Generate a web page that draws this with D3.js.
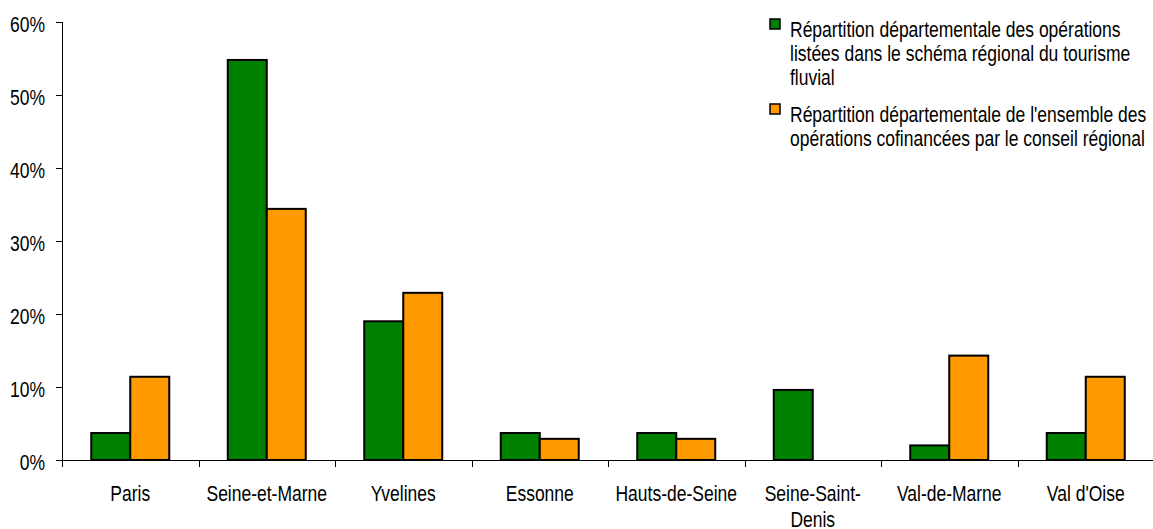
<!DOCTYPE html>
<html>
<head>
<meta charset="utf-8">
<script src="https://cdn.jsdelivr.net/npm/d3@7"></script>
<style>
  body { margin: 0; background: #fff; }
  svg { display: block; font-family: "Liberation Sans", Arial, sans-serif; }
  .axis path, .axis line { stroke: #000; shape-rendering: crispEdges; }
  .axis text { fill: #000; font-size: 17.5px; }
</style>
</head>
<body>
<svg id="chart" width="1153" height="529"></svg>
<script>
//#region DATA /////////////////////////////////////////////////////////////////

// departments, the second one spans two lines in the original
const categories = [
  ["Paris"], ["Seine-et-Marne"], ["Yvelines"], ["Essonne"],
  ["Hauts-de-Seine"], ["Seine-Saint-", "Denis"], ["Val-de-Marne"],
  ["Val d'Oise"]
];

// share of the operations listed in the regional river tourism scheme
const schemaValues = [0.037, 0.548, 0.190, 0.037, 0.037, 0.096, 0.020, 0.037];
// share of all operations co-financed by the regional council
const cofinValues  = [0.114, 0.344, 0.229, 0.029, 0.029, 0.000, 0.143, 0.114];

const seriesNames = [
  ["Répartition départementale des opérations",
   "listées dans le schéma régional du tourisme", "fluvial"],
  ["Répartition départementale de l'ensemble des",
   "opérations cofinancées par le conseil régional"]
];

const yTicks = [0, 0.1, 0.2, 0.3, 0.4, 0.5, 0.6];

//#endregion

//#region LAYOUT ///////////////////////////////////////////////////////////////

const LEFT = 62, RIGHT = 1154, TOP = 22, BOTTOM = 460;
const STRETCH = 1.25;   // the source text is taller than it is wide
const COLORS = ["#008000", "#ff9900"];

const svg = d3.select("#chart");

const x0 = d3.scaleBand()
    .domain(categories.map((d, i) => i))
    .range([LEFT, RIGHT]);

// excel style: gap between groups is 150% of a bar width
const bw = x0.bandwidth() / 3.5;
const x1 = d3.scaleBand()
    .domain([0, 1])
    .range([bw * 0.75, bw * 2.75]);

const y = d3.scaleLinear().domain([0, 0.6]).range([BOTTOM, TOP]);

//#endregion

//#region AXES /////////////////////////////////////////////////////////////////

const yAxis = svg.append("g")
    .attr("class", "axis")
    .attr("transform", "translate(" + LEFT + ",0)")
    .call(d3.axisLeft(y).tickValues(yTicks).tickFormat(d3.format(".0%"))
              .tickSize(6).tickSizeOuter(0));
yAxis.selectAll("text")
    .attr("x", -17)
    .attr("dy", "0.42em")
    .attr("transform", "scale(1," + STRETCH + ")");
// the y axis runs a little below the baseline, like the x ticks
yAxis.select(".domain").attr("d", "M0.5," + TOP + "V" + (BOTTOM + 7));

const xAxis = svg.append("g")
    .attr("class", "axis")
    .attr("transform", "translate(0," + BOTTOM + ")")
    .call(d3.axisBottom(x0).tickSize(0).tickFormat(""));

// separators between the departments
xAxis.selectAll(".sep")
    .data(categories.slice(1))
    .join("line")
    .attr("class", "sep")
    .attr("x1", (d, i) => Math.round(x0(i + 1)) + 0.5)
    .attr("x2", (d, i) => Math.round(x0(i + 1)) + 0.5)
    .attr("y1", 0)
    .attr("y2", 7);

// category labels, possibly on two lines
const labels = xAxis.selectAll(".tick text")
    .attr("y", 0)
    .attr("dy", 0)
    .attr("transform", "translate(0,41) scale(1," + STRETCH + ")");
labels.each(function(d) {
  const t = d3.select(this);
  categories[d].forEach((line, k) => {
    t.append("tspan")
        .attr("x", 0)
        .attr("dy", k === 0 ? 0 : 21)
        .text(line);
  });
});

//#endregion

//#region BARS /////////////////////////////////////////////////////////////////

const groups = svg.selectAll(".group")
    .data(categories.map((d, i) => [schemaValues[i], cofinValues[i]]))
    .join("g")
    .attr("class", "group")
    .attr("transform", (d, i) => "translate(" + x0(i) + ",0)");

groups.selectAll("rect")
    .data(d => d.map((v, s) => ({v, s})))
    .join("rect")
    .filter(d => d.v > 0)
    .attr("x", d => x1(d.s))
    .attr("y", d => y(d.v))
    .attr("width", x1.bandwidth())
    .attr("height", d => BOTTOM - y(d.v))
    .attr("fill", d => COLORS[d.s])
    .attr("stroke", "#000")
    .attr("stroke-width", 2);

//#endregion

//#region LEGEND ///////////////////////////////////////////////////////////////

const legendTop = [19, 104];
const legend = svg.selectAll(".legend")
    .data(seriesNames)
    .join("g")
    .attr("class", "legend")
    .attr("transform", (d, i) => "translate(770," + legendTop[i] + ")");

legend.append("rect")
    .attr("width", 10)
    .attr("height", 10)
    .attr("fill", (d, i) => COLORS[i])
    .attr("stroke", "#000")
    .attr("stroke-width", 1.5);

legend.append("text")
    .attr("transform", "translate(20,17.5) scale(1," + STRETCH + ")")
    .attr("font-size", 17.5)
    .attr("fill", "#000")
    .selectAll("tspan")
    .data(d => d)
    .join("tspan")
    .attr("x", 0)
    .attr("dy", (d, k) => k === 0 ? 0 : 19.6)
    .text(d => d);

//#endregion
</script>
</body>
</html>
